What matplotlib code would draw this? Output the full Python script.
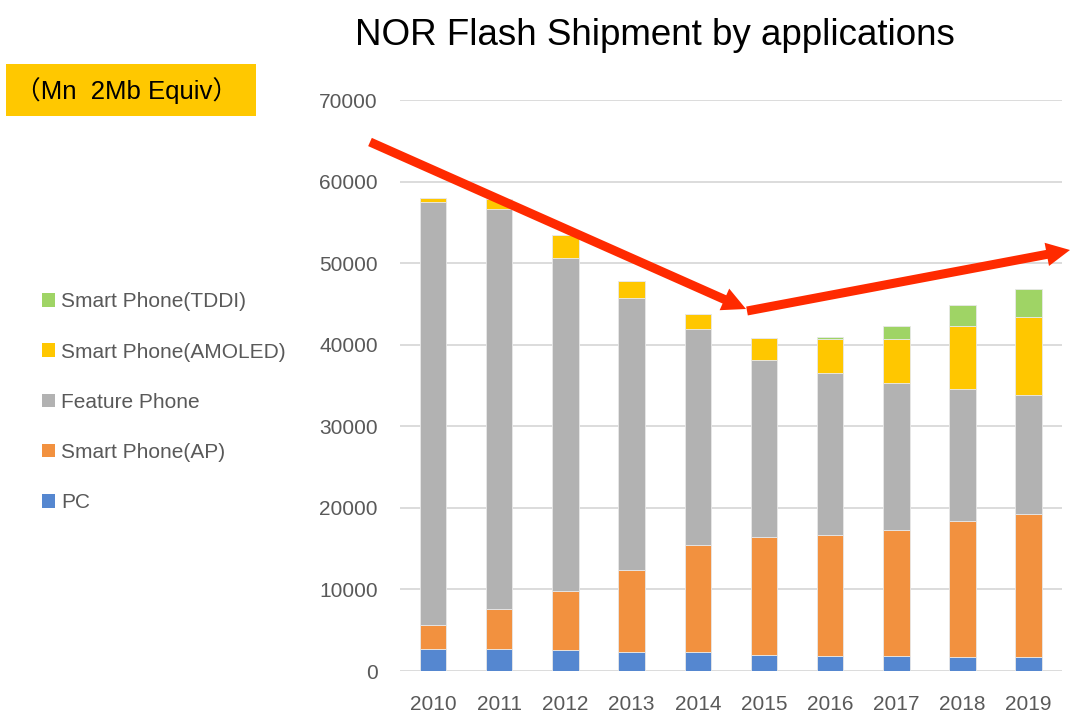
import numpy as np
import matplotlib.pyplot as plt
from matplotlib.patches import FancyArrowPatch, Patch, Rectangle

plt.rcParams['font.family'] = ['Liberation Sans', 'Noto Sans CJK SC', 'DejaVu Sans']

anos = ['2010', '2011', '2012', '2013', '2014', '2015', '2016', '2017', '2018', '2019']
pc = [2700, 2700, 2600, 2300, 2300, 2000, 1850, 1850, 1700, 1700]
smart_ap = [3000, 4900, 7200, 10100, 13200, 14400, 14800, 15500, 16700, 17600]
feature = [51800, 49000, 40800, 33300, 26400, 21700, 19950, 17950, 16200, 14500]
amoled = [500, 1300, 2800, 2100, 1850, 2700, 4100, 5450, 7650, 9550]
tddi = [0, 0, 0, 0, 0, 0, 200, 1600, 2650, 3450]

series = [
    ('PC', pc, '#5587d0'),
    ('Smart Phone(AP)', smart_ap, '#f2913f'),
    ('Feature Phone', feature, '#b2b2b2'),
    ('Smart Phone(AMOLED)', amoled, '#ffc700'),
    ('Smart Phone(TDDI)', tddi, '#9fd465'),
]

fig = plt.figure(figsize=(10.78, 7.2), dpi=100)
ax = fig.add_axes([0.371, 0.068, 0.614, 0.793])

x = np.arange(len(anos))
base = np.zeros(len(anos))
for nome, vals, cor in series:
    vals = np.array(vals, dtype=float)
    ax.bar(x, vals, 0.4, bottom=base, color=cor, edgecolor='#e8e8e8',
           linewidth=0.6, label=nome, zorder=3)
    base += vals

ax.set_xlim(-0.5, len(anos) - 0.5)
ax.set_ylim(0, 70000)
ax.set_yticks(np.arange(0, 70001, 10000))
ax.set_xticks(x)
ax.set_xticklabels(anos)
ax.grid(axis='y', color='#d9d9d9', linewidth=1.3, zorder=0)
ax.set_axisbelow(True)
for s in ax.spines.values():
    s.set_visible(False)
ax.tick_params(length=0, labelsize=15, labelcolor='#595959')
ax.tick_params(axis='y', pad=16)
ax.tick_params(axis='x', pad=17)

# Título
fig.text(0.608, 0.951, 'NOR Flash Shipment by applications', ha='center',
         va='center', fontsize=26.5, color='black')

# Caixa da unidade
fig.add_artist(Rectangle((6 / 1078, 1 - 116 / 720), 250 / 1078, 52 / 720,
                         transform=fig.transFigure, facecolor='#ffc800',
                         edgecolor='none'))
fig.text(127 / 1078, 1 - 91 / 720, '（Mn  2Mb Equiv）', ha='center', va='center',
         fontsize=18.5, color='black')

# Legenda (ordem invertida)
handles = [Patch(facecolor=c, edgecolor='none') for _, _, c in series][::-1]
labels = [n for n, _, _ in series][::-1]
fig.legend(handles, labels, loc='upper left', bbox_to_anchor=(0.039, 0.594),
           frameon=False, fontsize=15, labelspacing=1.5, handlelength=0.62,
           handleheight=0.62, handletextpad=0.3, labelcolor='#595959',
           borderaxespad=0, borderpad=0)

# Setas de tendência
def px(xp, yp):
    return (xp / 1078, 1 - yp / 720)

estilo = 'simple,head_length=17,head_width=17,tail_width=6.5'
seta1 = FancyArrowPatch(px(370, 142), px(746, 309), transform=fig.transFigure,
                        arrowstyle=estilo, color='#ff2a00', linewidth=0,
                        mutation_scale=1, shrinkA=0, shrinkB=0)
seta2 = FancyArrowPatch(px(747, 311), px(1070, 250), transform=fig.transFigure,
                        arrowstyle=estilo, color='#ff2a00', linewidth=0,
                        mutation_scale=1, shrinkA=0, shrinkB=0)
fig.add_artist(seta1)
fig.add_artist(seta2)

fig.savefig('out.png', dpi=100)
